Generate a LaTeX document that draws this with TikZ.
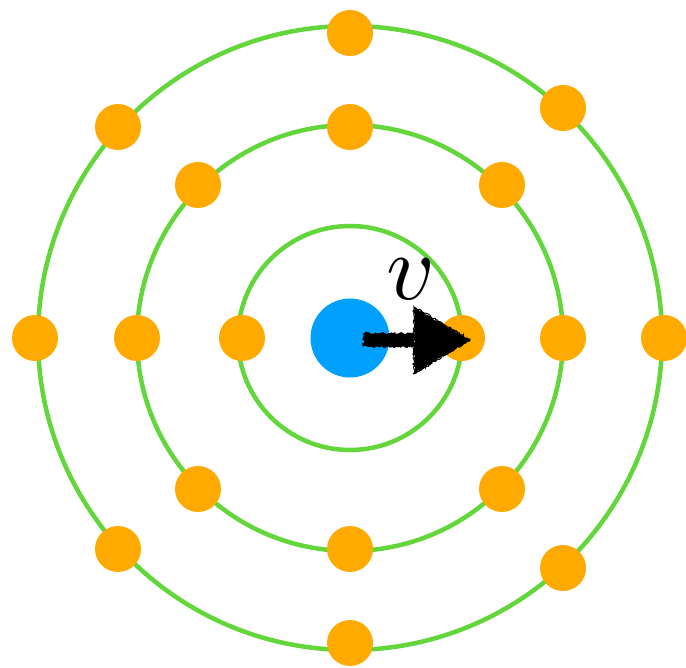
\documentclass[tikz,border=0pt]{standalone}
\usepackage{graphicx}
\usetikzlibrary{decorations.pathmorphing}
\definecolor{ringgreen}{RGB}{98,214,58}
\definecolor{elecorange}{RGB}{255,170,0}
\definecolor{nucblue}{RGB}{0,160,255}
\tikzset{
  ring/.style={draw=ringgreen,line width=4.5pt},
  electron/.style={circle,fill=elecorange,inner sep=0pt,minimum size=46pt},
  nucleus/.style={circle,fill=nucblue,inner sep=0pt,minimum size=79pt},
  rough/.style={decorate,decoration={random steps,segment length=1.5pt,amplitude=1.2pt}},
}
\begin{document}
\begin{tikzpicture}[x=1pt,y=-1pt]
\useasboundingbox (0,0) rectangle (686,668);
\coordinate (c) at (350,338);
\draw[ring] (c) circle[radius=112];
\draw[ring] (c) circle[radius=213];
\draw[ring] (c) circle[radius=312];
% outer ring electrons
\node[electron] (o1) at (350,33) {};
\node[electron] (o2) at (118,127) {};
\node[electron] (o3) at (563,108) {};
\node[electron] (o4) at (35,338) {};
\node[electron] (o5) at (664,338) {};
\node[electron] (o6) at (118,549) {};
\node[electron] (o7) at (563,568) {};
\node[electron] (o8) at (350,643) {};
% middle ring electrons
\node[electron] (m1) at (350,127) {};
\node[electron] (m2) at (198,185) {};
\node[electron] (m3) at (502,185) {};
\node[electron] (m4) at (137,338) {};
\node[electron] (m5) at (563,338) {};
\node[electron] (m6) at (198,489) {};
\node[electron] (m7) at (502,489) {};
\node[electron] (m8) at (350,549) {};
% inner ring electrons
\node[electron] (i1) at (242,338) {};
\node[electron] (i2) at (462,338) {};
% nucleus
\node[nucleus] (n) at (c) {};
% velocity arrow
\coordinate (s) at (363,340);
\coordinate (hb) at (414,340);
\coordinate (tip) at (470,340);
\fill[rough,black] ([yshift=-7]s) -- ([yshift=-7]hb) -- ([yshift=7]hb) -- ([yshift=7]s) -- cycle;
\fill[rough,black] ([yshift=-34]hb) -- (tip) -- ([yshift=33]hb) -- cycle;
\draw[rough,black,line width=1pt] ([yshift=-34]hb) -- (tip) -- ([yshift=33]hb) -- cycle;
\node (v) at (411,279) {\scalebox{9.4}{$v$}};
\end{tikzpicture}
\end{document}
